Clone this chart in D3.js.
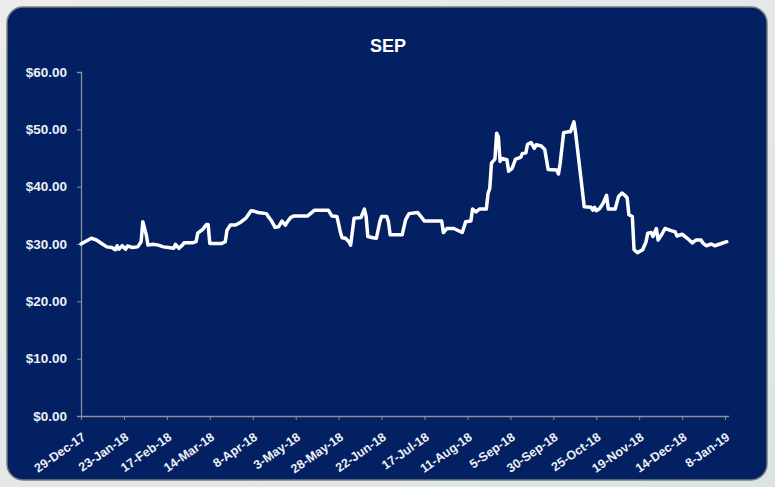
<!DOCTYPE html>
<html>
<head>
<meta charset="utf-8">
<script src="https://cdn.jsdelivr.net/npm/d3@7"></script>
<style>
  html, body { margin: 0; padding: 0; }
  body { width: 775px; height: 487px; overflow: hidden; background: #e9ebeb; }
  svg { display: block; }
</style>
</head>
<body>
<svg id="chart" width="775" height="487"></svg>
<script>
// ---- data ----
const title = "SEP";
const dates = [
  "2017-12-29","2018-01-04","2018-01-07","2018-01-10","2018-01-13","2018-01-16","2018-01-18","2018-01-19",
  "2018-01-20","2018-01-22","2018-01-24","2018-01-25","2018-01-28","2018-01-31","2018-02-02","2018-02-03",
  "2018-02-05","2018-02-06","2018-02-09","2018-02-12","2018-02-15","2018-02-18","2018-02-21","2018-02-22",
  "2018-02-24","2018-02-26","2018-02-27","2018-03-04","2018-03-06","2018-03-07","2018-03-10","2018-03-12",
  "2018-03-13","2018-03-14","2018-03-21","2018-03-23","2018-03-24","2018-03-26","2018-03-29","2018-04-01",
  "2018-04-04","2018-04-07","2018-04-09","2018-04-11","2018-04-16","2018-04-17","2018-04-19","2018-04-21",
  "2018-04-23","2018-04-25","2018-04-27","2018-04-28","2018-04-30","2018-05-02","2018-05-10","2018-05-14",
  "2018-05-22","2018-05-24","2018-05-27","2018-05-29","2018-05-30","2018-06-01","2018-06-03","2018-06-04",
  "2018-06-06","2018-06-10","2018-06-12","2018-06-13","2018-06-14","2018-06-17","2018-06-19","2018-06-21",
  "2018-06-22","2018-06-25","2018-06-26","2018-06-27","2018-07-04","2018-07-06","2018-07-08","2018-07-13",
  "2018-07-17","2018-07-27","2018-07-28","2018-07-30","2018-08-03","2018-08-08","2018-08-10","2018-08-13",
  "2018-08-14","2018-08-16","2018-08-18","2018-08-22","2018-08-23","2018-08-24","2018-08-25","2018-08-27",
  "2018-08-28","2018-08-29","2018-08-30","2018-08-31","2018-09-03","2018-09-04","2018-09-06","2018-09-08",
  "2018-09-11","2018-09-12","2018-09-14","2018-09-15","2018-09-17","2018-09-19","2018-09-20","2018-09-23",
  "2018-09-25","2018-09-27","2018-10-02","2018-10-03","2018-10-04","2018-10-06","2018-10-09","2018-10-10",
  "2018-10-12","2018-10-13","2018-10-16","2018-10-18","2018-10-22","2018-10-23","2018-10-24","2018-10-25",
  "2018-10-27","2018-10-29","2018-10-31","2018-11-01","2018-11-05","2018-11-07","2018-11-09","2018-11-11",
  "2018-11-12","2018-11-13","2018-11-15","2018-11-16","2018-11-18","2018-11-21","2018-11-23","2018-11-24",
  "2018-11-26","2018-11-27","2018-11-29","2018-11-30","2018-12-02","2018-12-04","2018-12-08","2018-12-10",
  "2018-12-11","2018-12-14","2018-12-17","2018-12-20","2018-12-22","2018-12-25","2018-12-26","2018-12-28",
  "2018-12-31","2019-01-02","2019-01-05","2019-01-09"
];
const prices = [
  30.0,31.0,30.7,30.1,29.5,29.4,29.0,29.7,
  29.1,29.7,29.1,29.65,29.4,29.5,30.4,33.9,
  31.6,29.8,29.95,29.8,29.5,29.4,29.25,29.95,
  29.25,29.8,30.2,30.2,30.4,31.9,32.6,33.4,
  33.4,30.1,30.1,30.4,32.4,33.3,33.3,33.8,
  34.5,35.8,35.7,35.5,35.3,34.8,34.0,32.9,
  33.0,34.0,33.3,33.8,34.6,34.9,34.9,35.9,
  35.9,34.9,34.8,32.1,31.1,31.0,30.4,29.8,
  34.5,34.6,36.1,34.8,31.3,31.1,31.0,33.9,
  34.8,34.8,33.9,31.6,31.6,34.2,35.3,35.5,
  34.0,34.0,32.0,32.7,32.7,32.0,33.9,34.0,
  36.1,35.6,36.1,36.1,38.8,39.7,44.1,44.8,
  49.3,48.7,44.4,44.9,44.7,42.7,43.2,44.8,
  45.1,45.8,45.9,47.4,47.7,46.7,47.3,47.1,
  46.5,43.0,42.9,42.2,44.1,49.4,49.6,49.6,
  51.3,49.3,41.7,36.5,36.4,35.9,36.4,35.8,
  36.2,37.1,38.5,36.1,36.1,38.3,38.9,38.4,
  38.0,35.1,34.8,29.0,28.5,29.0,30.4,31.9,
  32.0,31.3,32.7,30.7,31.6,32.7,32.3,32.1,
  31.4,31.7,31.0,30.2,30.7,30.7,30.2,29.7,
  30.0,29.7,30.0,30.4
];
const xDomain = ["2017-12-29", "2019-01-10"];
const xTickDates = ["2017-12-29","2018-01-23","2018-02-17","2018-03-14","2018-04-08","2018-05-03","2018-05-28",
  "2018-06-22","2018-07-17","2018-08-11","2018-09-05","2018-09-30","2018-10-25","2018-11-19","2018-12-14","2019-01-08"];
const xTickLabels = ["29-Dec-17","23-Jan-18","17-Feb-18","14-Mar-18","8-Apr-18","3-May-18","28-May-18",
  "22-Jun-18","17-Jul-18","11-Aug-18","5-Sep-18","30-Sep-18","25-Oct-18","19-Nov-18","14-Dec-18","8-Jan-19"];
const yTicks = [0, 10, 20, 30, 40, 50, 60];

// ---- drawing ----
const parse = d3.timeParse("%Y-%m-%d");
const svg = d3.select("#chart");

// panel
const defs = svg.append("defs");
const bg = defs.append("linearGradient").attr("id", "bg").attr("x1", 0).attr("y1", 0).attr("x2", 1).attr("y2", 1);
bg.append("stop").attr("offset", "0%").attr("stop-color", "#ececec");
bg.append("stop").attr("offset", "100%").attr("stop-color", "#dde3e4");
svg.append("rect").attr("width", 775).attr("height", 487).attr("fill", "url(#bg)");
svg.append("rect")
  .attr("x", 7).attr("y", 7).attr("width", 760).attr("height", 473)
  .attr("rx", 16).attr("ry", 16)
  .attr("fill", "#022062").attr("stroke", "#767b80").attr("stroke-width", 1.5);

const plot = { left: 81, right: 728.5, top: 72, bottom: 416 };

const x = d3.scaleTime().domain(xDomain.map(parse)).range([plot.left, plot.right]);
const y = d3.scaleLinear().domain([0, 60]).range([plot.bottom, plot.top]);

// title
svg.append("text")
  .attr("x", 388).attr("y", 52)
  .attr("text-anchor", "middle")
  .attr("font-family", "'Liberation Sans', Arial, sans-serif")
  .attr("font-weight", "bold").attr("font-size", 18)
  .attr("fill", "#ffffff")
  .text(title);

// y axis
const yAxis = svg.append("g")
  .attr("transform", `translate(${plot.left},0)`)
  .call(d3.axisLeft(y).tickValues(yTicks).tickSize(4).tickPadding(10)
    .tickFormat(d => "$" + d3.format(".2f")(d)));
yAxis.select(".domain").attr("stroke", "#8a8f99").attr("stroke-width", 1.3);
yAxis.selectAll(".tick line").attr("stroke", "#8a8f99");
yAxis.selectAll(".tick text")
  .attr("font-family", "'Liberation Sans', Arial, sans-serif")
  .attr("font-weight", "bold").attr("font-size", 13.5)
  .attr("fill", "#eef0f4");

// x axis
const xAxis = svg.append("g")
  .attr("transform", `translate(0,${plot.bottom})`)
  .call(d3.axisBottom(x).tickValues(xTickDates.map(parse)).tickSize(4).tickSizeOuter(0)
    .tickFormat((d, i) => xTickLabels[i]));
xAxis.select(".domain").attr("stroke", "#8a8f99").attr("stroke-width", 1.3);
xAxis.selectAll(".tick line").attr("stroke", "#8a8f99");
xAxis.selectAll(".tick text")
  .attr("font-family", "'Liberation Sans', Arial, sans-serif")
  .attr("font-weight", "bold").attr("font-size", 12.5)
  .attr("fill", "#eef0f4")
  .attr("text-anchor", "end")
  .attr("dy", 0)
  .attr("transform", "translate(5,23) rotate(-35)")
  .attr("y", 0).attr("x", 0);

// line
const data = dates.map((d, i) => ({ date: parse(d), value: prices[i] }));
svg.append("path")
  .datum(data)
  .attr("fill", "none")
  .attr("stroke", "#ffffff")
  .attr("stroke-width", 3.5)
  .attr("stroke-linejoin", "round")
  .attr("stroke-linecap", "round")
  .attr("d", d3.line().x(d => x(d.date)).y(d => y(d.value)));
</script>
</body>
</html>
